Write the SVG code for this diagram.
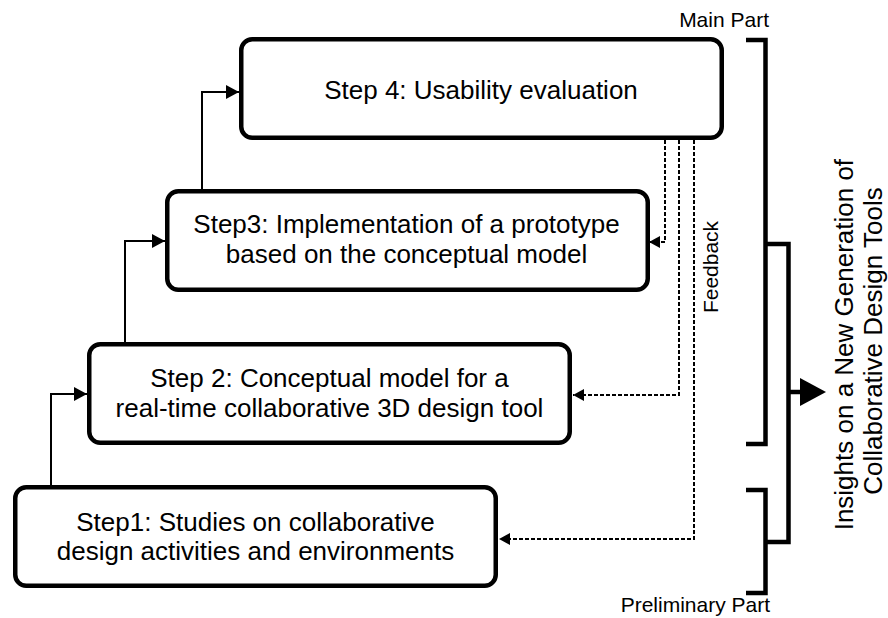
<svg xmlns="http://www.w3.org/2000/svg" width="888" height="618" viewBox="0 0 888 618">
<style>
  .box { fill: #ffffff; stroke: #000000; stroke-width: 4.5; }
  .lbl { font-family: "Liberation Sans", Arial, Helvetica, sans-serif; font-size: 26px; fill: #000000; text-anchor: middle; }
  .small { font-family: "Liberation Sans", Arial, Helvetica, sans-serif; font-size: 21px; fill: #000000; }
  .flow { fill: none; stroke: #000000; stroke-width: 2; }
  .fb { fill: none; stroke: #000000; stroke-width: 2; stroke-dasharray: 4 2; }
  .brk { fill: none; stroke: #000000; stroke-width: 4.5; stroke-linejoin: miter; stroke-linecap: butt; }
</style>
<defs>
  <marker id="arrSolid" markerUnits="userSpaceOnUse" markerWidth="13" markerHeight="14" refX="13" refY="7" orient="auto">
    <path d="M0,0 L13,7 L0,14 Z" fill="#000000" stroke="none"/>
  </marker>
  <marker id="arrDash" markerUnits="userSpaceOnUse" markerWidth="11" markerHeight="12" refX="11" refY="6" orient="auto">
    <path d="M0,0 L11,6 L0,12 Z" fill="#000000" stroke="none"/>
  </marker>
</defs>
<rect width="888" height="618" fill="#ffffff"/>

<g id="connectors">
  <path class="flow" d="M51,485 L51,394 L87,394" marker-end="url(#arrSolid)"/>
  <path class="flow" d="M125,342 L125,241 L165,241" marker-end="url(#arrSolid)"/>
  <path class="flow" d="M202,189 L202,92 L239,92" marker-end="url(#arrSolid)"/>
  <path class="fb" d="M665,140 L665,242 L649,242" marker-end="url(#arrDash)"/>
  <path class="fb" d="M679,140 L679,395 L573,395" marker-end="url(#arrDash)"/>
  <path class="fb" d="M694,140 L694,539 L499,539" marker-end="url(#arrDash)"/>
</g>

<g id="step4">
  <rect class="box" x="241.25" y="39.25" width="480.5" height="98.5" rx="11"/>
  <text class="lbl" x="481" y="99">Step 4: Usability evaluation</text>
</g>
<g id="step3">
  <rect class="box" x="167.25" y="191.25" width="480.5" height="98.5" rx="11"/>
  <text class="lbl" x="406.5" y="233">Step3: Implementation of a prototype</text>
  <text class="lbl" x="406.5" y="263">based on the conceptual model</text>
</g>
<g id="step2">
  <rect class="box" x="89.25" y="344.25" width="480.5" height="98.5" rx="11"/>
  <text class="lbl" x="329.5" y="387">Step 2: Conceptual model for a</text>
  <text class="lbl" x="329.5" y="417">real-time collaborative 3D design tool</text>
</g>
<g id="step1">
  <rect class="box" x="15.25" y="487.25" width="480.5" height="98.5" rx="11"/>
  <text class="lbl" x="255.5" y="531">Step1: Studies on collaborative</text>
  <text class="lbl" x="255.5" y="560">design activities and environments</text>
</g>

<g id="feedback-label">
  <text class="small" transform="translate(718,267) rotate(-90)" text-anchor="middle">Feedback</text>
</g>

<g id="brackets">
  <path class="brk" d="M746,40 L765.5,40 L765.5,444 L746,444"/>
  <path class="brk" d="M746,490 L765.5,490 L765.5,593 L746,593"/>
  <path class="brk" d="M765.5,244 L788.5,244 L788.5,542 L765.5,542"/>
  <path class="brk" d="M788.5,392 L801,392"/>
  <path d="M800,378 L826,392 L800,406 Z" fill="#000000"/>
</g>

<g id="main-part-label">
  <text class="small" x="769" y="27" text-anchor="end">Main Part</text>
</g>
<g id="preliminary-part-label">
  <text class="small" x="770" y="612" text-anchor="end">Preliminary Part</text>
</g>

<g id="insights">
  <text class="lbl" transform="translate(853,341) rotate(-90)">
    <tspan x="0" y="0">Insights on a New Generation of</tspan>
    <tspan x="0" y="29">Collaborative Design Tools</tspan>
  </text>
</g>
</svg>
